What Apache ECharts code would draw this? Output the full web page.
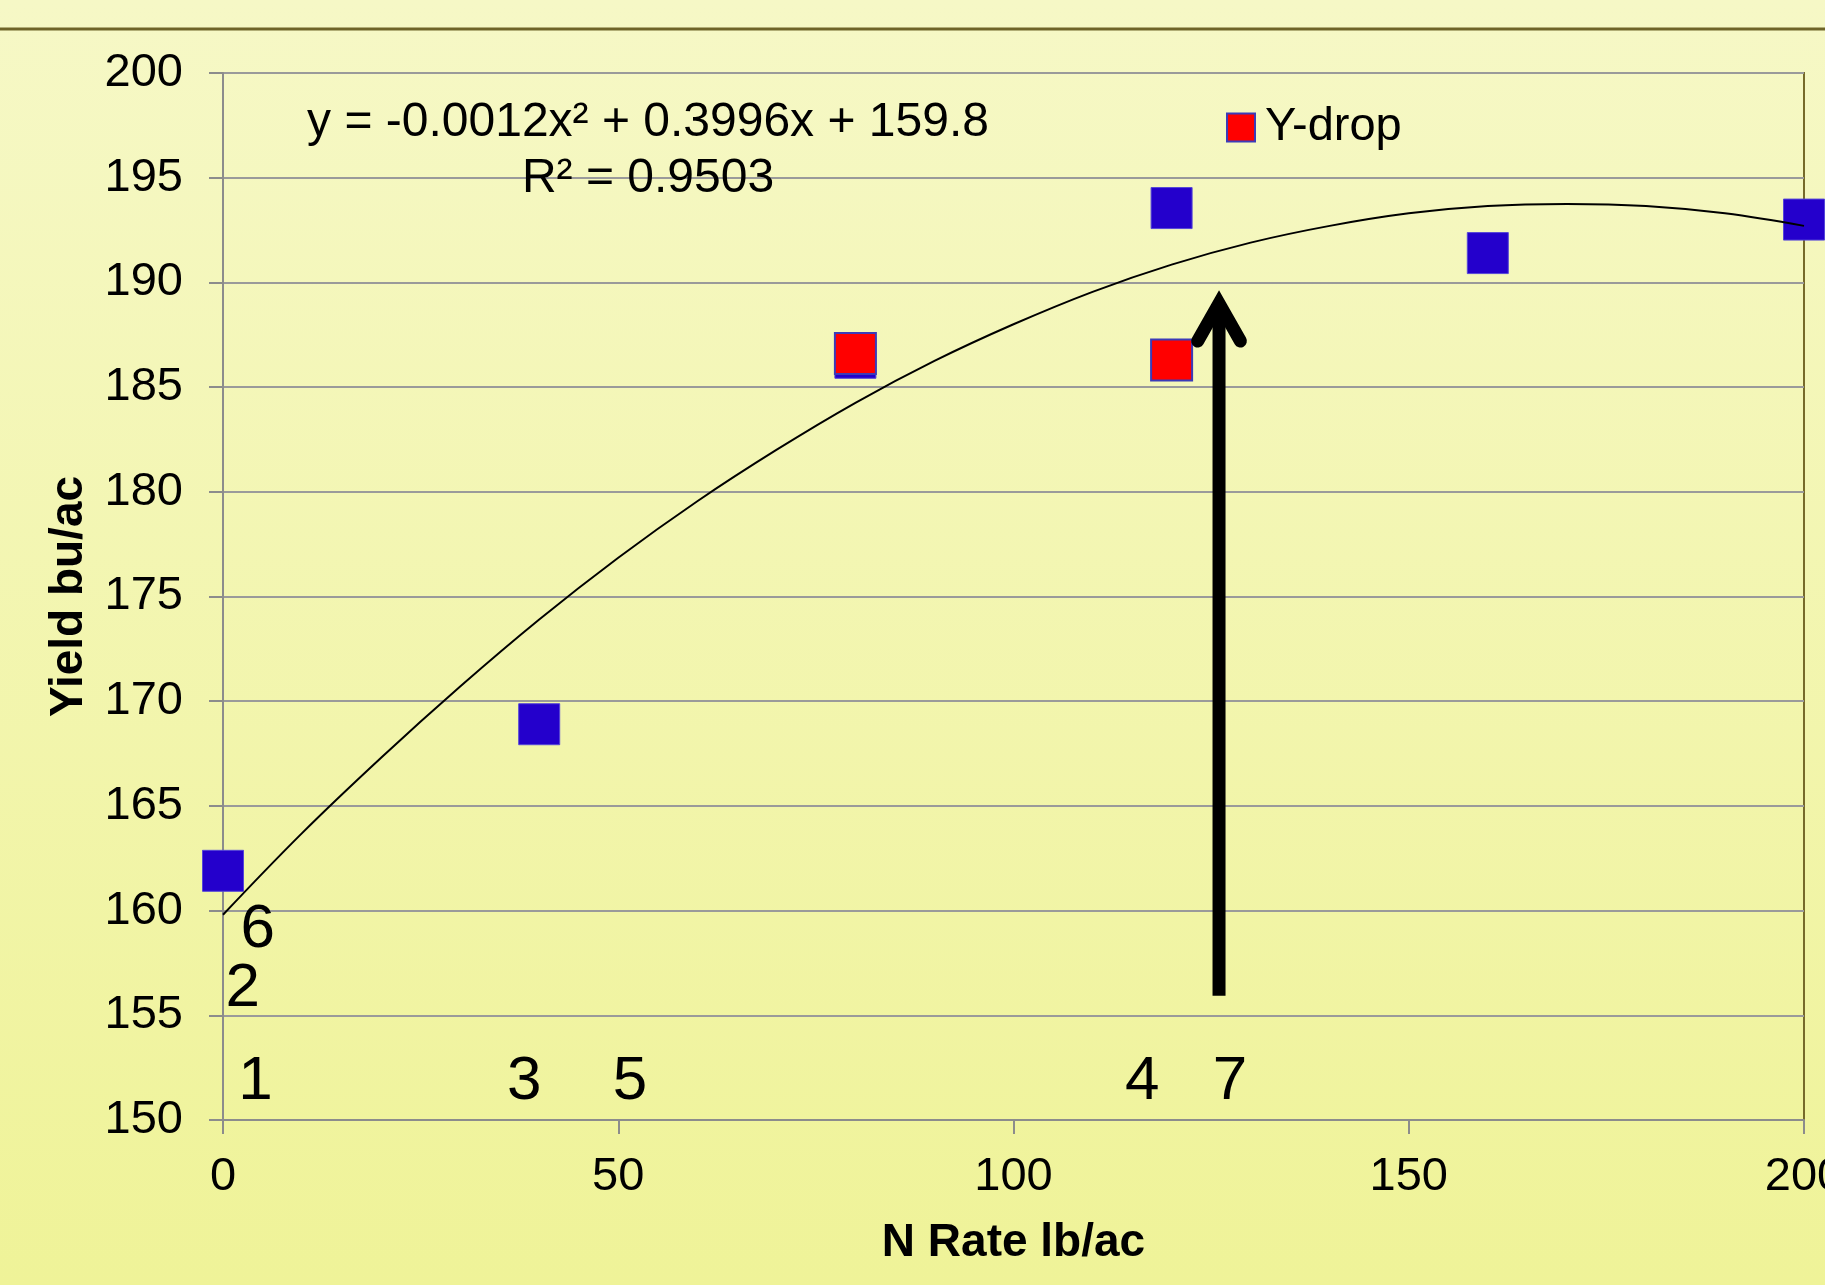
<!DOCTYPE html>
<html>
<head>
<meta charset="utf-8">
<script src="https://cdn.jsdelivr.net/npm/echarts@6/dist/echarts.min.js"></script>
<style>
  html, body { margin: 0; padding: 0; }
  #chart { width: 1825px; height: 1285px; }
</style>
</head>
<body>
<div id="chart"></div>
<script>
// ---- data ----
const nRate = [0, 40, 80, 120, 160, 200];
const yieldN = [161.9, 168.9, 186.4, 193.55, 191.4, 193.0];

const yDropRate = [80, 120];
const yDropYield = [186.6, 186.3];

const trendX = [0, 10, 20, 30, 40, 50, 60, 70, 80, 90, 100, 110, 120, 130, 140, 150, 160, 170, 180, 190, 200];
const trendY = [159.8, 163.7, 167.3, 170.7, 173.9, 176.85, 179.55, 182.0, 184.25, 186.25, 188.0, 189.55, 190.85, 191.9, 192.7, 193.3, 193.65, 193.75, 193.65, 193.3, 192.7];

const markText = ['1', '2', '3', '4', '5', '6', '7'];
const markX = [4.1, 2.5, 38.1, 116.3, 51.5, 4.4, 127.4];
const markY = [151.8, 156.25, 151.8, 151.8, 151.8, 159.1, 151.8];

const arrowShaftX = [126, 126];
const arrowShaftY = [155.93, 188.9];
const arrowHeadX = [123.3, 126, 128.7];
const arrowHeadY = [187.2, 189.0, 187.2];

const xTicks = { min: 0, max: 200, interval: 50 };
const yTicks = { min: 150, max: 200, interval: 5 };

const equationText = 'y = -0.0012x² + 0.3996x + 159.8';
const r2Text = 'R² = 0.9503';
const xTitle = 'N Rate lb/ac';
const yTitle = 'Yield bu/ac';
const legendName = 'Y-drop';

// ---- chart ----
const FONT = '"Liberation Sans", Arial, sans-serif';
const zip = (a, b) => a.map((v, i) => [v, b[i]]);

const chart = echarts.init(document.getElementById('chart'), null, { renderer: 'canvas' });

const option = {
  animation: false,
  backgroundColor: new echarts.graphic.LinearGradient(0, 0, 0, 1, [
    { offset: 0, color: '#f6f8c6' },
    { offset: 1, color: '#eff398' }
  ]),
  textStyle: { fontFamily: FONT },
  grid: {
    left: 223, right: 21, top: 73, bottom: 165,
    containLabel: false, outerBoundsMode: 'none',
    show: true, borderColor: '#766a2a', borderWidth: 2, backgroundColor: 'transparent'
  },
  legend: {
    data: [legendName],
    left: 1226, top: 104, padding: 0,
    icon: 'rect', itemWidth: 28, itemHeight: 28,
    textStyle: { fontSize: 47, color: '#000', fontFamily: FONT, padding: [0, 0, 0, 5] }
  },
  xAxis: {
    type: 'value', min: xTicks.min, max: xTicks.max, interval: xTicks.interval,
    name: xTitle, nameLocation: 'middle', nameGap: 100,
    nameTextStyle: { fontSize: 46, fontWeight: 'bold', color: '#000', fontFamily: FONT },
    axisLine: { show: true, lineStyle: { color: '#8c8c8c', width: 2 } },
    axisTick: { show: true, length: 14, inside: false, lineStyle: { color: '#8c8c8c', width: 2 } },
    axisLabel: { fontSize: 47, color: '#000', margin: 34, fontFamily: FONT, hideOverlap: false },
    splitLine: { show: false }
  },
  yAxis: {
    type: 'value', min: yTicks.min, max: yTicks.max, interval: yTicks.interval,
    name: yTitle, nameLocation: 'middle', nameGap: 131, nameRotate: 90,
    nameTextStyle: { fontSize: 46, fontWeight: 'bold', color: '#000', fontFamily: FONT },
    axisLine: { show: true, lineStyle: { color: '#8c8c8c', width: 2 } },
    axisTick: { show: true, length: 14, inside: false, lineStyle: { color: '#8c8c8c', width: 2 } },
    axisLabel: { fontSize: 47, color: '#000', margin: 40, fontFamily: FONT },
    splitLine: { show: true, lineStyle: { color: '#9a9a9a', width: 2 } }
  },
  series: [
    {
      name: 'Yield', type: 'scatter', symbol: 'rect', symbolSize: 41,
      data: zip(nRate, yieldN), clip: false, z: 2,
      itemStyle: { color: '#2400cc', borderColor: '#5546d8', borderWidth: 1, opacity: 1 }
    },
    {
      name: legendName, type: 'scatter', symbol: 'rect', symbolSize: 41,
      data: zip(yDropRate, yDropYield), z: 3,
      itemStyle: { color: '#ff0000', borderColor: '#3b3bb8', borderWidth: 2, opacity: 1 }
    },
    {
      name: 'trend', type: 'line', smooth: 0.4, showSymbol: false, symbol: 'none',
      data: zip(trendX, trendY), z: 4, silent: true,
      lineStyle: { color: '#000', width: 2 }
    },
    {
      name: 'arrowShaft', type: 'line', symbol: 'none', z: 5, silent: true,
      data: zip(arrowShaftX, arrowShaftY),
      lineStyle: { color: '#000', width: 13, cap: 'butt' }
    },
    {
      name: 'arrowHead', type: 'line', symbol: 'none', z: 5, silent: true,
      data: zip(arrowHeadX, arrowHeadY),
      lineStyle: { color: '#000', width: 13, cap: 'round', join: 'miter' }
    },
    {
      name: 'marks', type: 'scatter', symbol: 'circle', symbolSize: 1, z: 6, silent: true,
      itemStyle: { color: 'rgba(0,0,0,0)', opacity: 1 },
      data: markText.map((t, i) => ({ name: t, value: [markX[i], markY[i]] })),
      label: {
        show: true, position: 'inside', formatter: p => p.name,
        fontSize: 62, color: '#000000', opacity: 1, fontFamily: FONT,
        textBorderWidth: 0
      }
    }
  ],
  graphic: [
    {
      type: 'line', shape: { x1: 0, y1: 29, x2: 1825, y2: 29 },
      style: { stroke: '#6e6428', lineWidth: 3 }, z: 10
    },
    {
      type: 'text', x: 648, y: 123, z: 10,
      style: { text: equationText, fontSize: 48, fontFamily: FONT, fill: '#000', align: 'center', verticalAlign: 'middle' }
    },
    {
      type: 'text', x: 648, y: 179, z: 10,
      style: { text: r2Text, fontSize: 48, fontFamily: FONT, fill: '#000', align: 'center', verticalAlign: 'middle' }
    }
  ]
};

chart.setOption(option);
</script>
</body>
</html>
